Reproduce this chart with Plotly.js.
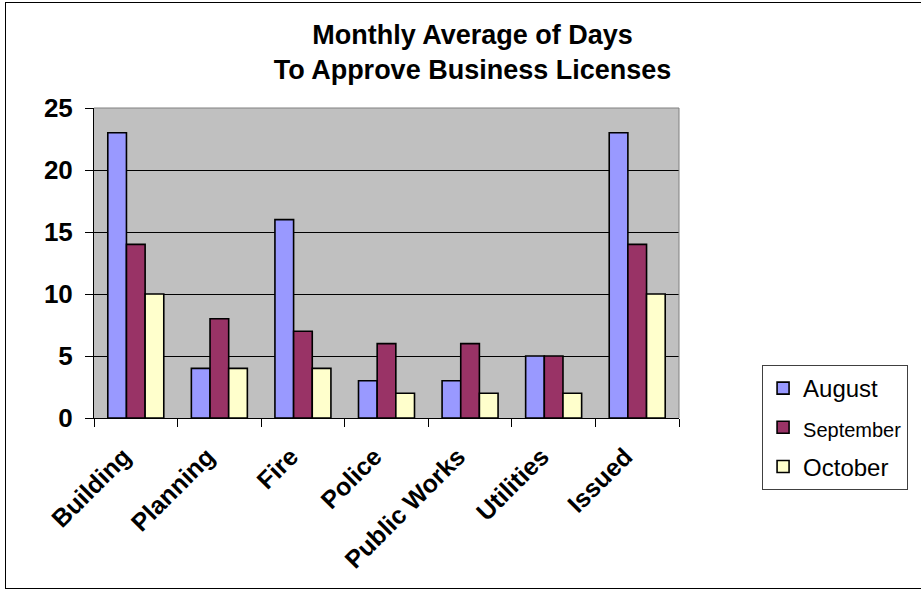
<!DOCTYPE html>
<html>
<head>
<meta charset="utf-8">
<script src="https://cdn.plot.ly/plotly-3.0.1.min.js"></script>
<style>
  html, body { margin: 0; padding: 0; background: #fff; }
  #wrap { position: relative; width: 921px; height: 592px; }
  #chart { width: 921px; height: 592px; }
  #frame { position: absolute; left: 5px; top: 2px; width: 930px; height: 587px;
           border: 1px solid #000; box-sizing: border-box; pointer-events: none; }
</style>
</head>
<body>
<div id="wrap">
  <div id="chart"></div>
  <div id="frame"></div>
</div>
<script>
const categories = ["Building", "Planning", "Fire", "Police", "Public Works", "Utilities", "Issued"];
const august = [23, 4, 16, 3, 3, 5, 23];
const september = [14, 8, 7, 6, 6, 5, 14];
const october = [10, 4, 4, 2, 2, 2, 10];
const yTicks = [0, 5, 10, 15, 20, 25];

const mk = (name, y, color, grp) => ({
  type: 'bar', name: name, x: categories, y: y, legendgroup: grp,
  marker: { color: color, line: { color: '#000', width: 1.6 } }
});

const data = [
  mk('August', august, '#9999FF', 'g1'),
  mk('<span style="font-size:20px">September</span>', september, '#993366', 'g2'),
  mk('October', october, '#FFFFCC', 'g3')
];

const layout = {
  width: 921, height: 592,
  margin: { l: 94, r: 242, t: 108, b: 174, autoexpand: false },
  paper_bgcolor: '#fff',
  plot_bgcolor: '#C0C0C0',
  font: { family: 'Liberation Sans, Arial, sans-serif', color: '#000' },
  title: {
    text: '<b>Monthly Average of Days<br>To Approve Business Licenses</b>',
    font: { size: 27, color: '#000' },
    x: 0.513, xref: 'container', xanchor: 'center',
    y: 0.926, yref: 'container', yanchor: 'top'
  },
  barmode: 'group',
  bargap: 0.33,
  bargroupgap: 0,
  showlegend: true,
  legend: {
    x: 1.142, xanchor: 'left', y: 0.171, yanchor: 'top',
    bordercolor: '#404040', borderwidth: 1, bgcolor: '#fff',
    font: { size: 24, color: '#000' },
    tracegroupgap: 5, itemwidth: 30
  },
  xaxis: {
    type: 'category',
    tickangle: -45,
    tickfont: { size: 25, color: '#000', weight: 'bold' },
    ticks: 'outside', ticklen: 8, tickcolor: '#000',
    tickson: 'boundaries',
    showline: true, linecolor: '#000', linewidth: 1,
    mirror: false, showgrid: false, zeroline: false,
    ticklabelstandoff: 13, ticklabelshift: -12
  },
  yaxis: {
    range: [0, 25],
    tickvals: yTicks,
    tickfont: { size: 26, color: '#000', weight: 'bold' },
    ticks: 'outside', ticklen: 8, tickcolor: '#000',
    showline: true, linecolor: '#000', linewidth: 1,
    showgrid: true, gridcolor: '#000', gridwidth: 1,
    zeroline: false, ticklabelstandoff: 7
  },
  shapes: [
    { type: 'line', xref: 'paper', yref: 'paper', x0: 0, x1: 1, y0: 1, y1: 1,
      line: { color: '#808080', width: 1 } },
    { type: 'line', xref: 'paper', yref: 'paper', x0: 1, x1: 1, y0: 0, y1: 1,
      line: { color: '#808080', width: 1 } }
  ]
};

Plotly.newPlot('chart', data, layout, { displayModeBar: false, staticPlot: true });
</script>
</body>
</html>
